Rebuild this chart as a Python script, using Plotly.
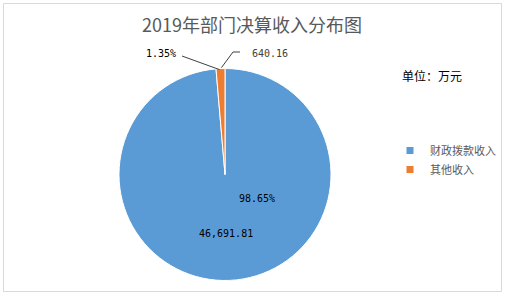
import math
import plotly.graph_objects as go

W, H = 507, 298
title = "2019年部门决算收入分布图"
unit_label = "单位：万元"
categories = ["财政拨款收入", "其他收入"]
values = [46691.81, 640.16]
pct_labels = ["98.65%", "1.35%"]
value_labels = ["46,691.81", "640.16"]
colors = ["#5b9bd5", "#ed7d31"]

def px(x):
    return x / W

def py(y):
    return 1 - y / H

# pie geometry (pixels)
cx, cy, R = 225, 174.5, 106

fig = go.Figure()
fig.add_trace(go.Pie(
    labels=categories, values=values, sort=False, direction="clockwise",
    rotation=0, marker=dict(colors=colors, line=dict(color="white", width=1)),
    textinfo="none", hoverinfo="label+value+percent", showlegend=False,
    domain=dict(x=[px(cx - R), px(cx + R)], y=[py(cy + R), py(cy - R)]),
))
for c, col in zip(categories, colors):
    fig.add_trace(go.Scatter(x=[None], y=[None], mode="markers", name=c,
                             marker=dict(symbol="square", size=7, color=col)))

total = sum(values)
# orange slice mid-angle (clockwise from 12 o'clock)
mid = 360 * (values[0] + values[1] / 2) / total
ex = cx + R * math.sin(math.radians(mid))
ey = cy - R * math.cos(math.radians(mid))

mono = "DejaVu Sans Mono, monospace"

def note(x, y, text, size, color, family):
    return dict(x=px(x), y=py(y), xref="paper", yref="paper", text=text,
                xanchor="center", yanchor="middle",
                showarrow=False, font=dict(size=size, color=color, family=family))

ann = [
    note(252, 24, title, 18, "#595959", "Noto Sans CJK SC"),
    note(432, 75, unit_label, 12, "#000000", "Noto Sans CJK SC"),
    note(257, 198, pct_labels[0], 10, "#000000", mono),
    note(226, 233, value_labels[0], 10, "#000000", mono),
    note(161, 53, pct_labels[1], 10, "#000000", mono),
    note(270, 53, value_labels[1], 10, "#404040", mono),
]
shapes = [
    dict(type="rect", xref="paper", yref="paper", x0=px(3.5), x1=px(501.5),
         y0=py(291.5), y1=py(3.5), line=dict(color="#d9d9d9", width=1)),
    dict(type="path", xref="paper", yref="paper",
         path=f"M{px(182)},{py(56)} L{px(ex - 1)},{py(ey + 1)}",
         line=dict(color="#404040", width=1)),
    dict(type="path", xref="paper", yref="paper",
         path=f"M{px(240)},{py(52)} L{px(233)},{py(52)} L{px(ex + 1)},{py(ey - 1)}",
         line=dict(color="#404040", width=1)),
]

fig.update_layout(
    width=W, height=H, margin=dict(l=0, r=0, t=0, b=0),
    paper_bgcolor="white", plot_bgcolor="white",
    xaxis=dict(visible=False), yaxis=dict(visible=False),
    annotations=ann, shapes=shapes,
    legend=dict(x=px(390), y=py(136), xanchor="left", yanchor="top",
                font=dict(size=11, color="#595959", family="Noto Sans CJK SC"),
                itemwidth=30, tracegroupgap=0, bgcolor="rgba(0,0,0,0)"),
)
fig.write_html("out.html")
